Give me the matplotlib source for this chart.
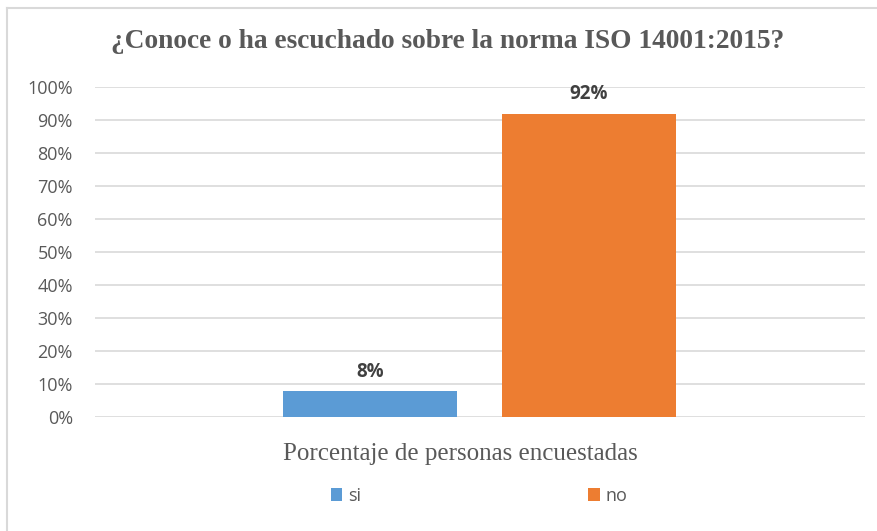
#!/usr/bin/env python3
"""Encuesta ISO 14001:2015 - barras si/no."""

import matplotlib
matplotlib.use("Agg")
import matplotlib.pyplot as plt
from matplotlib.lines import Line2D
from matplotlib.patches import Patch

W, H = 878, 531

# Data
labels  = ["si", "no"]
values  = [8, 92]            # % de personas encuestadas
colors  = ["#5B9BD5", "#ED7D31"]
yticks  = list(range(0, 101, 10))

TEXT  = "#595959"
GRID  = "#D9D9D9"
SANS  = ["Open Sans", "DejaVu Sans"]
SERIF = ["Liberation Serif", "DejaVu Serif"]

fig = plt.figure(figsize=(W / 100, H / 100), dpi=100)
fig.patch.set_facecolor("white")

# light frame (top + left, rest cropped in the source)
fig.add_artist(Line2D([7.5 / W, 1.0], [1 - 7.5 / H] * 2, color=GRID, lw=1.5))
fig.add_artist(Line2D([7.5 / W] * 2, [0.0, 1 - 7.5 / H], color=GRID, lw=1.5))

ax = fig.add_axes([95 / W, 113.7 / H, 770 / W, 330 / H])

xpos = [-0.286, 0.283]
bars = ax.bar(xpos, values, width=0.452, color=colors, zorder=3)

for b, v in zip(bars, values):
    ax.text(b.get_x() + b.get_width() / 2, v + 2.8, f"{v}%",
            ha="center", va="bottom", fontsize=13.5, fontweight="bold",
            color="#404040", family=SANS)

ax.set_xlim(-1, 1)
ax.set_ylim(0, 100)
ax.set_yticks(yticks)
ax.set_yticklabels([f"{t}%" for t in yticks], family=SANS, fontsize=13, color=TEXT)
ax.set_xticks([])
ax.tick_params(axis="y", length=0, pad=16)
ax.grid(axis="y", color=GRID, lw=1.2, zorder=0)
for s in ax.spines.values():
    s.set_visible(False)

fig.text(447.5 / W, 1 - 41 / H, "¿Conoce o ha escuchado sobre la norma ISO 14001:2015?",
         ha="center", va="center", fontsize=19.7, fontweight="bold",
         color=TEXT, family=SERIF)

fig.text(460 / W, 1 - 454 / H, "Porcentaje de personas encuestadas",
         ha="center", va="center", fontsize=18, color=TEXT, family=SERIF)

handles = [Patch(facecolor=c, edgecolor="none") for c in colors]
fig.legend(handles, labels, loc="center", bbox_to_anchor=(479 / W, 1 - 496 / H),
           ncol=2, frameon=False, handlelength=0.65, handleheight=0.75,
           handletextpad=0.3, columnspacing=12.6,
           prop={"family": SANS, "size": 13}, labelcolor=TEXT)

fig.savefig("out.png", dpi=100)
plt.close(fig)
